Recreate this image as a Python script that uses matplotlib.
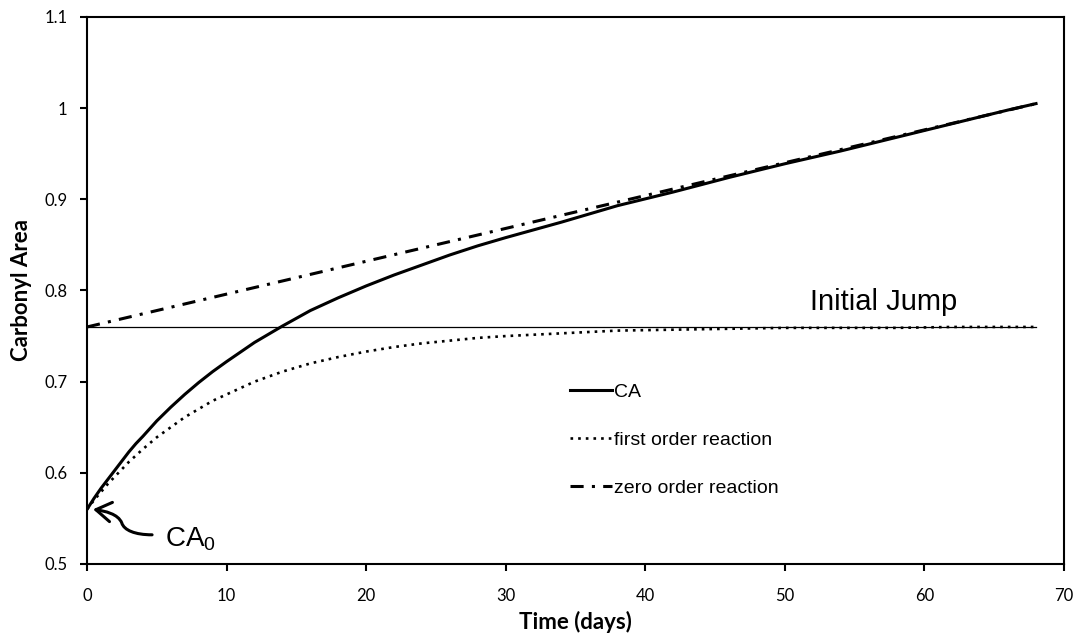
import matplotlib
matplotlib.use("Agg")
import matplotlib.pyplot as plt
from matplotlib.path import Path
from matplotlib.patches import FancyArrowPatch

# days
t = [0, 0.5, 1, 1.5, 2, 2.5, 3, 3.5, 4, 5, 6, 7, 8, 9, 10, 12, 14, 16, 18, 20,
     22, 24, 26, 28, 30, 34, 38, 42, 46, 50, 54, 58, 62, 66, 68]

# carbonyl area
ca = [0.560, 0.572, 0.583, 0.593, 0.603, 0.613, 0.623, 0.632, 0.640, 0.657,
      0.672, 0.686, 0.699, 0.711, 0.722, 0.743, 0.761, 0.778, 0.792, 0.805,
      0.817, 0.828, 0.839, 0.849, 0.858, 0.875, 0.893, 0.908, 0.924, 0.939,
      0.953, 0.968, 0.983, 0.998, 1.005]
first_order = [0.560, 0.570, 0.579, 0.588, 0.596, 0.604, 0.612, 0.619, 0.626,
               0.639, 0.650, 0.661, 0.670, 0.679, 0.686, 0.700, 0.711, 0.720,
               0.727, 0.733, 0.738, 0.742, 0.745, 0.748, 0.750, 0.753, 0.756,
               0.757, 0.758, 0.759, 0.759, 0.759, 0.760, 0.760, 0.760]

t_zero = [0, 68]
zero_order = [0.760, 1.005]

t_jump = [0, 68]
jump = [0.760, 0.760]

label_font = ["Lato", "DejaVu Sans"]
text_font = ["Liberation Sans", "DejaVu Sans"]

fig = plt.figure(figsize=(10.76, 6.39), dpi=100)
ax = fig.add_axes([0.0809, 0.1174, 0.9079, 0.856])

ax.plot(t_jump, jump, color="black", lw=0.9)
ax.plot(t_zero, zero_order, color="black", lw=2.2,
        linestyle=(0, (4.3, 2.7, 1, 2.7)), label="zero order reaction")
ax.plot(t, first_order, color="black", lw=1.9,
        linestyle=(0, (1, 1.9)), label="first order reaction")
ax.plot(t, ca, color="black", lw=2.2, label="CA")

ax.set_xlim(0, 70)
ax.set_ylim(0.5, 1.1)
ax.set_xticks(range(0, 71, 10))
ax.set_yticks([0.5, 0.6, 0.7, 0.8, 0.9, 1.0, 1.1])
ax.set_yticklabels(["0.5", "0.6", "0.7", "0.8", "0.9", "1", "1.1"])

for s in ax.spines.values():
    s.set_linewidth(1.5)
ax.tick_params(direction="out", length=5, width=1.5, labelsize=12)
ax.tick_params(axis="x", pad=12)
ax.tick_params(axis="y", pad=9)
for lab in ax.get_xticklabels() + ax.get_yticklabels():
    lab.set_family(label_font)

ax.set_xlabel("Time (days)", fontsize=16, fontweight="bold",
              family=label_font, labelpad=5)
ax.set_ylabel("Carbonyl Area", fontsize=16, fontweight="bold",
              family=label_font, labelpad=9)

h, l = ax.get_legend_handles_labels()
order = [2, 1, 0]
leg = ax.legend([h[i] for i in order], [l[i] for i in order],
                loc="center left", bbox_to_anchor=(0.494, 0.2267),
                frameon=False, borderaxespad=0, borderpad=0,
                handlelength=2.2, handletextpad=0.1, labelspacing=1.55,
                prop={"family": text_font, "size": 14})

ax.text(51.8, 0.779, "Initial Jump", fontsize=21, family=text_font,
        ha="left", va="baseline")

ax.text(5.6, 0.519, r"CA$_\mathregular{0}$", fontsize=20, family=text_font,
        ha="left", va="baseline")

# curly arrow pointing at CA0
arrow_path = Path(
    [(4.66, 0.532), (3.44, 0.532), (2.65, 0.537), (2.49, 0.545),
     (2.22, 0.555), (1.29, 0.558), (0.43, 0.560)],
    [Path.MOVETO, Path.CURVE4, Path.CURVE4, Path.CURVE4,
     Path.CURVE4, Path.CURVE4, Path.CURVE4])
arrow = FancyArrowPatch(path=arrow_path, transform=ax.transData,
                        arrowstyle="->,head_length=0.55,head_width=0.35",
                        mutation_scale=20, lw=2.2, color="black")
ax.add_patch(arrow)

fig.savefig("out.png", dpi=100)
